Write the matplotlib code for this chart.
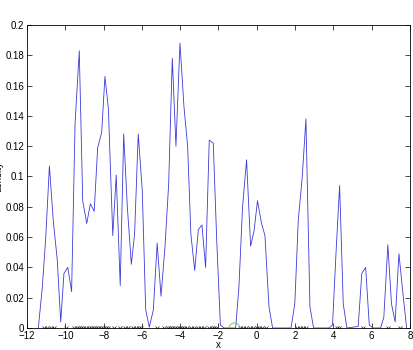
import numpy as np
import matplotlib
matplotlib.use("Agg")
import matplotlib.pyplot as plt

# kernel density estimate
grid_x = [-11.41, -11.20, -11.02, -10.83, -10.63, -10.42, -10.24, -10.07, -9.87, -9.67,
          -9.49, -9.27, -9.09, -8.88, -8.69, -8.49, -8.31, -8.10, -7.93, -7.75,
          -7.52, -7.34, -7.13, -6.95, -6.76, -6.55, -6.38, -6.19, -5.98, -5.80,
          -5.61, -5.40, -5.20, -5.00, -4.79, -4.60, -4.41, -4.22, -4.01, -3.80,
          -3.61, -3.44, -3.24, -3.05, -2.86, -2.67, -2.48, -2.27, -2.09, -1.90,
          -1.70, -1.10, -0.93, -0.74, -0.53, -0.32, -0.14, 0.04, 0.25, 0.43,
          0.64, 0.83, 1.79, 1.99, 2.17, 2.38, 2.57, 2.78, 2.97, 3.78,
          3.96, 4.14, 4.33, 4.52, 4.71, 5.30, 5.49, 5.69, 5.88, 6.08,
          6.47, 6.64, 6.85, 7.04, 7.23, 7.43, 7.62, 7.83]
density = [0, 0.027, 0.060, 0.107, 0.071, 0.045, 0.004, 0.036, 0.040, 0.024,
           0.135, 0.183, 0.084, 0.069, 0.082, 0.077, 0.119, 0.129, 0.166, 0.145,
           0.061, 0.101, 0.028, 0.128, 0.080, 0.042, 0.062, 0.128, 0.091, 0.012,
           0.0005, 0.012, 0.056, 0.021, 0.054, 0.095, 0.178, 0.120, 0.188, 0.146,
           0.120, 0.062, 0.038, 0.065, 0.068, 0.040, 0.124, 0.122, 0.058, 0.002,
           0, 0, 0.027, 0.080, 0.111, 0.054, 0.064, 0.084, 0.069, 0.061,
           0.014, 0, 0, 0.016, 0.071, 0.100, 0.138, 0.014, 0, 0,
           0.002, 0.049, 0.094, 0.016, 0, 0.001, 0.036, 0.040, 0.002, 0,
           0, 0.007, 0.055, 0.016, 0.004, 0.049, 0.025, 0]

# sample points drawn along the axis
samples = [-11.10, -10.93, -10.76, -10.58, -9.97, -9.52, -9.40, -9.29, -9.18, -9.05,
           -8.91, -8.78, -8.64, -8.52, -8.39, -8.27, -8.15, -8.02, -7.88, -7.76,
           -7.44, -7.14, -6.86, -6.73, -6.46, -6.29, -6.17, -6.02, -5.19, -4.86,
           -4.62, -4.52, -4.40, -4.28, -4.16, -4.03, -3.91, -3.79, -3.65, -3.44,
           -3.28, -3.09, -2.91, -2.74, -2.50, -2.36, -2.24, -2.13, -0.86, -0.70,
           -0.55, -0.36, -0.18, 0.03, 0.14, 0.26, 0.47, 2.08, 2.26, 2.43,
           2.57, 4.17, 4.31, 5.56, 6.87, 7.48]
query_x = [-1.18]
query_y = [0]

xticks = [-12, -10, -8, -6, -4, -2, 0, 2, 4, 6, 8]
yticks = [0, 0.02, 0.04, 0.06, 0.08, 0.1, 0.12, 0.14, 0.16, 0.18, 0.2]

plt.rcParams['font.family'] = ['Liberation Sans', 'DejaVu Sans']
plt.rcParams['font.size'] = 7

fig = plt.figure(figsize=(4.13, 3.5), dpi=100)
ax = fig.add_axes([0.0654, 0.0629, 0.927, 0.8657])

ax.plot(grid_x, density, color='#3a3ad8', lw=0.6)
ax.plot(samples, np.zeros(len(samples)), 'x', color='#222222', ms=3, mew=0.5)
ax.plot(query_x, query_y, 'o', mfc='none', mec='#44dd44', ms=8, mew=0.6)

ax.set_xlim(-12, 8)
ax.set_ylim(0, 0.2)
ax.set_xticks(xticks)
ax.set_xticklabels([str(t).replace('-', '\u2212') for t in xticks])
ax.set_yticks(yticks)
ax.set_yticklabels(['%g' % t for t in yticks])
ax.tick_params(direction='in', length=3.5, width=0.5, top=True, right=True, pad=2)
for s in ax.spines.values():
    s.set_linewidth(0.6)

ax.set_xlabel('x')
ax.xaxis.set_label_coords(0.5, -0.04)
ax.set_ylabel('density')
ax.yaxis.set_label_coords(-0.062, 0.5)

fig.savefig('out.png', dpi=100)
